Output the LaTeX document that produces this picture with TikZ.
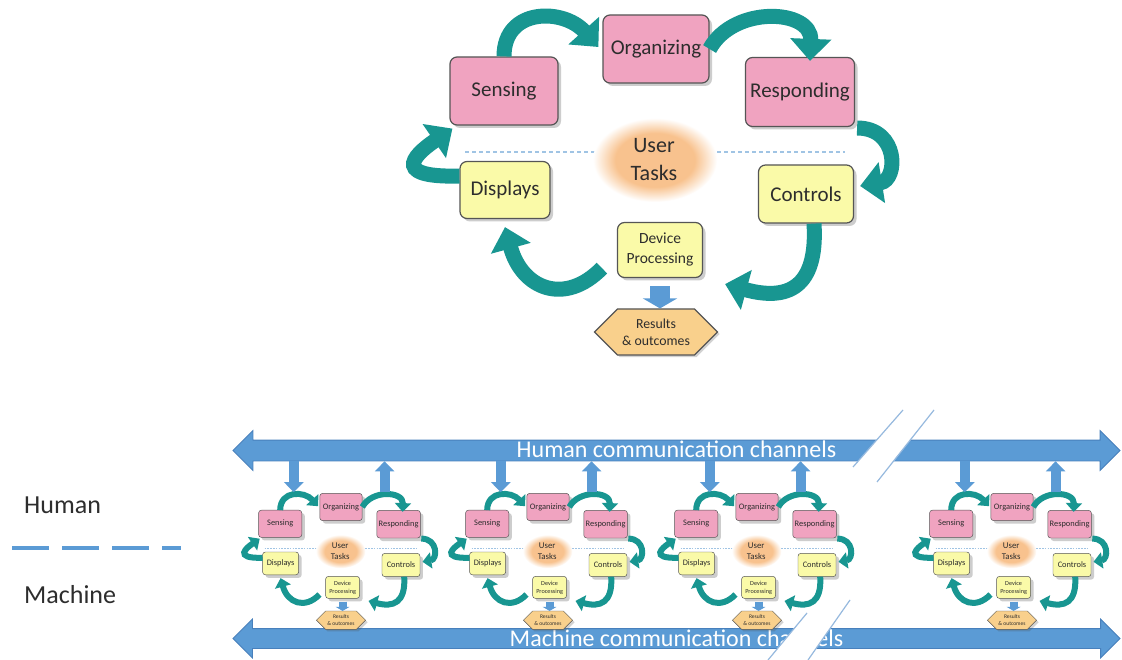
\documentclass[tikz,border=0pt]{standalone}
\usepackage{fontspec}
\setmainfont{Carlito}
\usetikzlibrary{arrows.meta,shapes.symbols,shapes.arrows,shadows,calc}

\definecolor{pinkfill}{RGB}{240,163,192}
\definecolor{yellowfill}{RGB}{250,250,168}
\definecolor{hexfill}{RGB}{249,208,140}
\definecolor{boxline}{RGB}{85,85,85}
\definecolor{inktext}{RGB}{45,45,45}
\definecolor{tealarrow}{RGB}{24,150,145}
\definecolor{chanblue}{RGB}{91,155,213}
\definecolor{chanedge}{RGB}{72,128,188}
\definecolor{breakline}{RGB}{150,185,222}
\definecolor{glowcore}{RGB}{248,194,142}
\definecolor{dividerblue}{RGB}{160,196,228}

\pgfdeclareradialshading{taskglow}{\pgfpoint{0bp}{0bp}}{%
  color(0bp)=(glowcore); color(16bp)=(glowcore); color(25bp)=(white); color(50bp)=(white)}

\tikzset{
  taskbox/.style={draw=boxline, line width=\sc*1.2pt, rounded corners=\sc*7pt,
    text=inktext, align=center,
    drop shadow={shadow xshift=3pt, shadow yshift=-3pt, opacity=.28, fill=black!70}},
  pinkbox/.style={taskbox, fill=pinkfill, font=\fontsize{21}{24}\selectfont},
  yellowbox/.style={taskbox, fill=yellowfill, font=\fontsize{21}{24}\selectfont},
  procbox/.style={taskbox, fill=yellowfill, font=\fontsize{15.5}{20}\selectfont},
  hexbox/.style={signal, signal to=west and east, signal pointer angle=90,
    draw=boxline, line width=\sc*1.2pt, fill=hexfill, text=inktext, align=center,
    font=\fontsize{13.8}{17}\selectfont,
    drop shadow={shadow xshift=2pt, shadow yshift=-2pt, opacity=.25, fill=black!70}},
  flow/.style={draw=tealarrow, line width=\sc*15pt,
    -{Triangle[width=\hw pt, length=\hl pt]}},
  outflow/.style={draw=chanblue, line width=\sc*20pt, shorten <=\sc*8pt,
    -{Triangle[width=\bw pt, length=\bl pt]}},
  divider/.style={draw=dividerblue, line width=\sc*1.5pt, dash pattern=on \sc*4pt off \sc*3pt},
  tasktext/.style={text=inktext, align=center, font=\fontsize{22}{28}\selectfont},
  chan/.style={double arrow, double arrow head extend=9.5pt, double arrow head indent=0pt,
    fill=chanblue, draw=chanedge, line width=0.8pt, text=white, inner xsep=0pt,
    font=\fontsize{24}{28}\selectfont},
  linkarrow/.style={draw=chanblue, line width=10pt, -{Triangle[width=19pt, length=10pt]}},
  breakstrip/.style={fill=white},
  breakedge/.style={draw=breakline, line width=1.2pt},
  legend/.style={text=inktext, font=\fontsize{26}{30}\selectfont, inner sep=0pt},
}

% One user-task loop: #1 shift, #2 scale, #3 name prefix
\newcommand\loopfig[3]{%
\begin{scope}[shift={(#1)}, scale=#2, transform shape, name prefix=#3-]
  \pgfmathsetmacro\sc{#2}%
  \pgfmathsetmacro\hw{40*#2}%
  \pgfmathsetmacro\hl{22*#2}%
  \pgfmathsetmacro\bw{34*#2}%
  \pgfmathsetmacro\bl{10*#2}%
  % human / machine divide and the central task glow
  \coordinate (dl) at (465,152);
  \coordinate (dr) at (845,152);
  \draw[divider] (dl) -- (dr);
  \shade[shading=taskglow] (655,160) ellipse [x radius=62pt, y radius=42pt];
  \node[tasktext] (ut) at (654,160) {User\\Tasks};
  % task boxes
  \node[pinkbox, minimum width=108pt, minimum height=68pt] (sen) at (504,91) {Sensing};
  \node[pinkbox, minimum width=106pt, minimum height=68pt] (org) at (656,49) {Organizing};
  \node[pinkbox, minimum width=109pt, minimum height=69pt] (res) at (800,92) {Responding};
  \node[yellowbox, minimum width=90pt, minimum height=57pt] (dis) at (505,190) {Displays};
  \node[yellowbox, minimum width=95pt, minimum height=58pt] (con) at (806,194) {Controls};
  \node[procbox, minimum width=85pt, minimum height=55pt] (dev) at (660,250) {Device\\Processing};
  \node[hexbox, minimum width=123pt, minimum height=46pt, inner sep=0pt] (out) at (656,332) {Results\\\& outcomes};
  % cycle of curved arrows
  \draw[flow] (sen.north) .. controls +(0,-49) and +(-35,-39) .. ($(org.west)+(-4,-2)$);
  \draw[flow] (org.east) .. controls +(24,-44) and +(2,-52) .. ($(res.north)+(10,4)$);
  \draw[flow] ($(res.east)+(2,36)$) .. controls +(42,0) and +(38,-6) .. ($(con.east)+(6,-8)$);
  \draw[flow] ($(con.south)+(8,0)$) .. controls +(4,65) and +(62,17) .. ($(dev.south east)+(22,6)$);
  \draw[flow] ($(dev.south west)+(-15,-10)$) .. controls +(-37,38) and +(17,62) .. ($(dis.south)+(0,8)$);
  \draw[flow] ($(dis.west)+(0,-14)$) .. controls +(-75,2) and +(-32,22) .. ($(sen.south west)+(3,3)$);
  \draw[outflow] (dev.south) -- (dev.south |- out.north);
  % docking points for the channel arrows
  \coordinate (in) at (538,12);
  \coordinate (outp) at (765,12);
\end{scope}}

\begin{document}
\begin{tikzpicture}[x=1pt, y=-1pt]
  \useasboundingbox (0,0) rectangle (1122,660);
  \fill[white] (0,0) rectangle (1122,660);

  % full-size loop
  \loopfig{0,0}{1}{top}

  % legend
  \node[legend, anchor=base west] (human) at (24,513) {Human};
  \node[legend, anchor=base west] (machine) at (24,603) {Machine};
  \coordinate (divl) at (12,548);
  \coordinate (divr) at (181,548);
  \draw[draw=chanblue, line width=4pt, dash pattern=on 36.5pt off 13.5pt] (divl) -- (divr);

  % communication channels
  \node[chan, minimum height=887pt, text height=14.5pt, text depth=1.5pt, inner ysep=2pt]
    (hum) at (676.5,450.5) {Human communication channels};
  \node[chan, minimum height=887pt, text height=16pt, text depth=1pt, inner ysep=1pt]
    (mac) at (676.5,638.5) {Machine communication channels};

  % break marks across the channels
  \fill[breakstrip] (903,410) -- (934,410) -- (877,482) -- (853,467) -- cycle;
  \draw[breakedge] (903,410) -- (853,467);
  \draw[breakedge] (934,410) -- (877,482);
  \fill[breakstrip] (807,613) -- (850,600) -- (808,660) -- (768,660) -- cycle;
  \draw[breakedge] (807,613) -- (768,660);
  \draw[breakedge] (850,600) -- (808,660);

  % small loops along the channels
  \loopfig{78.6,487.4}{0.4}{c1}
  \loopfig{285.6,487.4}{0.4}{c2}
  \loopfig{494.6,487.4}{0.4}{c3}
  \loopfig{749.6,487.4}{0.4}{c4}

  \foreach \c in {c1,c2,c3,c4} {
    \draw[linkarrow] (\c-in |- hum.south) -- (\c-in);
    \draw[linkarrow] (\c-outp) -- (\c-outp |- hum.south);
  }
\end{tikzpicture}
\end{document}
